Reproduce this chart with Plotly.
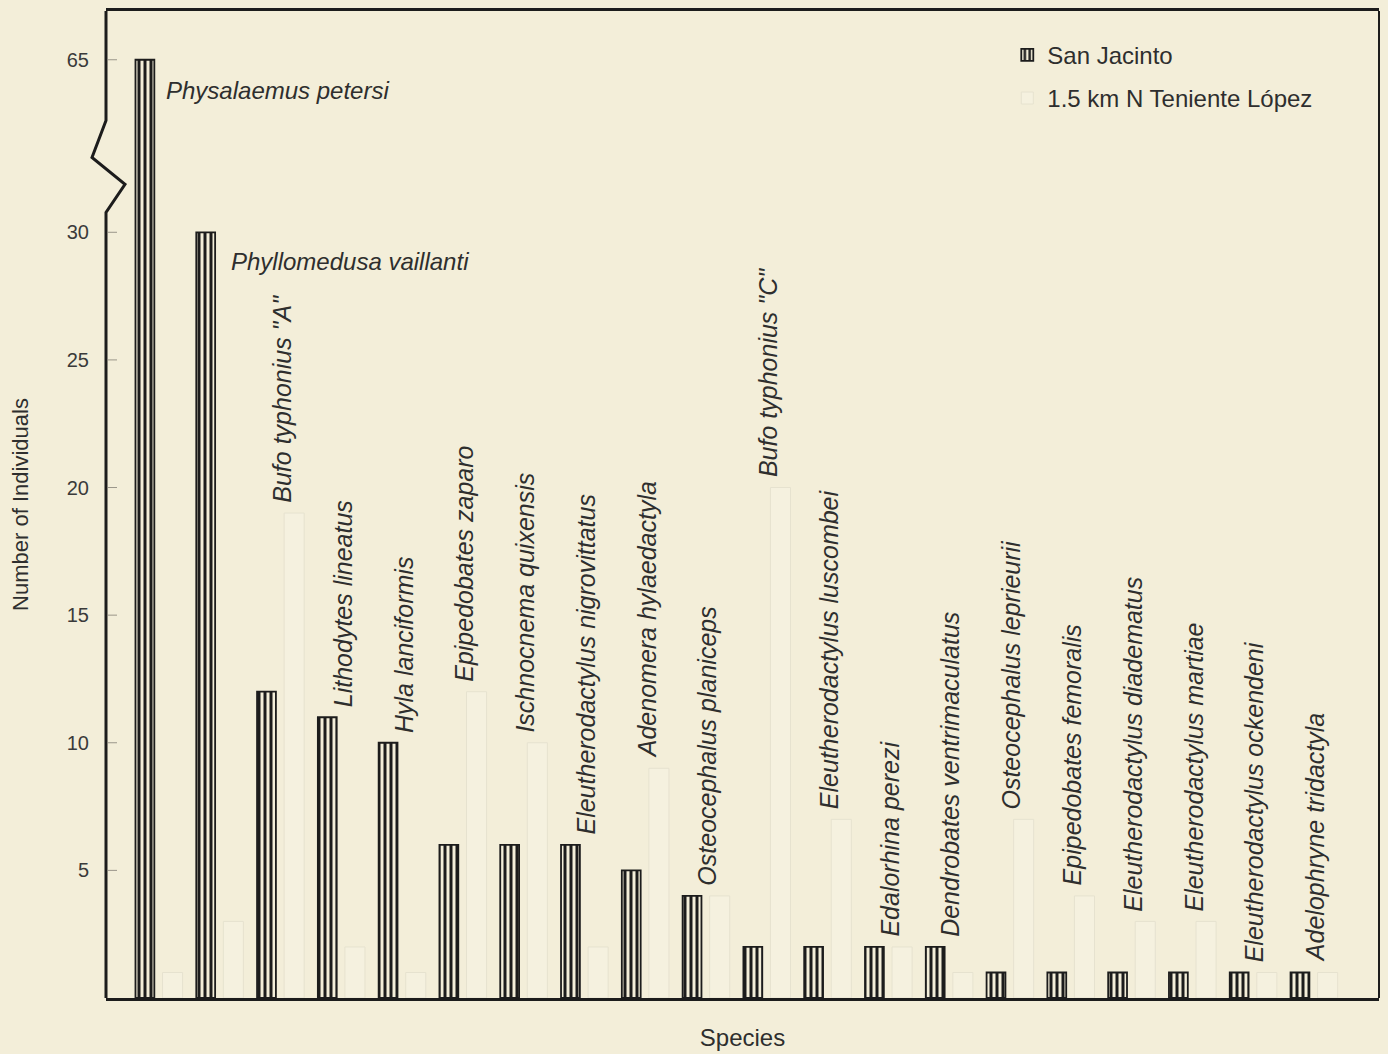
import plotly.graph_objects as go

species = [
    "Physalaemus petersi", "Phyllomedusa vaillanti", 'Bufo typhonius "A"', "Lithodytes lineatus",
    "Hyla lanciformis", "Epipedobates zaparo", "Ischnocnema quixensis", "Eleutherodactylus nigrovittatus",
    "Adenomera hylaedactyla", "Osteocephalus planiceps", 'Bufo typhonius "C"', "Eleutherodactylus luscombei",
    "Edalorhina perezi", "Dendrobates ventrimaculatus", "Osteocephalus leprieurii", "Epipedobates femoralis",
    "Eleutherodactylus diadematus", "Eleutherodactylus martiae", "Eleutherodactylus ockendeni",
    "Adelophryne tridactyla",
]
san_jacinto = [65, 30, 12, 11, 10, 6, 6, 6, 5, 4, 2, 2, 2, 2, 1, 1, 1, 1, 1, 1]
teniente_lopez = [1, 3, 19, 2, 1, 12, 10, 2, 9, 4, 20, 7, 2, 1, 7, 4, 3, 3, 1, 1]
y_ticks = [5, 10, 15, 20, 25, 30, 65]

BREAK = 30
ABOVE_SCALE = 6.76 / 35.0


def disp(v):
    return v if v <= BREAK else BREAK + (v - BREAK) * ABOVE_SCALE


BG = "#F3EED9"
INK = "#1c1c1c"
TXT = "#2e2e2e"
FONT = "Liberation Sans, Arial, Helvetica, sans-serif"

idx = list(range(len(species)))
sj_disp = [disp(v) for v in san_jacinto]
tl_disp = [disp(v) for v in teniente_lopez]

fig = go.Figure()
fig.add_trace(go.Bar(
    x=idx, y=sj_disp, name="San Jacinto", width=0.31, offset=-0.155,
    marker=dict(color=BG, line=dict(color=INK, width=1.8),
                pattern=dict(shape="|", size=6, solidity=0.5, fgcolor=INK, bgcolor=BG, fillmode="replace")),
    legendgroup="a", hoverinfo="skip",
))
fig.add_trace(go.Bar(
    x=idx, y=tl_disp, name="1.5 km N Teniente López", width=0.33, offset=0.29,
    marker=dict(color="#F5F1DF", line=dict(color="#E6E2CF", width=1)),
    legendgroup="b", hoverinfo="skip",
))

# species labels
for i, (name, a, b) in enumerate(zip(species, san_jacinto, teniente_lopez)):
    top = disp(max(a, b))
    if i == 0:
        fig.add_annotation(x=i + 0.155, y=top, text=f"<i>{name}</i>", showarrow=False,
                           font=dict(size=24), xanchor="left", yanchor="middle", xshift=10, yshift=-31)
    elif i == 1:
        fig.add_annotation(x=i + 0.155, y=disp(a), text=f"<i>{name}</i>", showarrow=False,
                           font=dict(size=24), xanchor="left", yanchor="middle", xshift=14, yshift=-29)
    else:
        fig.add_annotation(x=i + 0.25, y=top, text=f"<i>{name}</i>", showarrow=False,
                           font=dict(size=25), textangle=-90, xanchor="center", yanchor="bottom", yshift=8)

# dashed tick marks inside the axis
for t in y_ticks:
    fig.add_shape(type="line", xref="paper", xsizemode="pixel", xanchor=0, x0=2, x1=20,
                  yref="y", y0=disp(t), y1=disp(t), line=dict(color="#9a968a", width=1, dash="dash"))

# left axis with break zigzag (pixel offsets from the axis, y in axis units)
ymax = 38.67
zig = "M 0,0 L 0,30.78 L 19,31.88 L -14,32.93 L 0,34.38 L 0,38.67"
fig.add_shape(type="path", xref="paper", xsizemode="pixel", xanchor=0, yref="y",
              path=zig, line=dict(color=INK, width=3))
# right border
fig.add_shape(type="line", xref="paper", yref="paper", x0=1, x1=1, y0=0, y1=1,
              line=dict(color=INK, width=2))

fig.update_layout(
    width=1388, height=1054,
    margin=dict(l=106, r=9, t=8, b=56),
    paper_bgcolor=BG, plot_bgcolor=BG,
    barmode="overlay",
    font=dict(family=FONT, size=23, color=TXT),
    showlegend=True,
    legend=dict(x=0.708, y=0.978, xanchor="left", yanchor="top", bgcolor="rgba(0,0,0,0)",
                font=dict(size=24, color=TXT), tracegroupgap=9, traceorder="grouped"),
    xaxis=dict(range=[-0.64, 20.3], showgrid=False, zeroline=False, showticklabels=False,
               ticks="", showline=True, linecolor=INK, linewidth=2.5, mirror=True,
               title=dict(text="Species", font=dict(size=24, color=TXT), standoff=30)),
    yaxis=dict(range=[0, ymax], showgrid=False, zeroline=False, showline=False,
               tickvals=[disp(t) for t in y_ticks], ticktext=[str(t) for t in y_ticks],
               ticks="outside", ticklen=12, tickcolor=BG, tickfont=dict(size=20, color="#3a3a3a"),
               title=dict(text="Number of Individuals", font=dict(size=22, color=TXT), standoff=32)),
)

fig.write_html("out.html")
